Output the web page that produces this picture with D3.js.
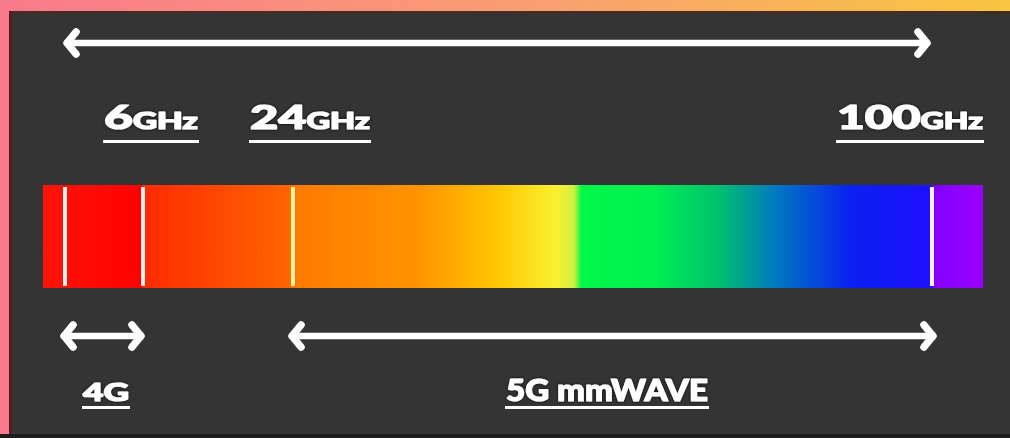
<!DOCTYPE html>
<html>
<head>
<meta charset="utf-8">
<script src="https://cdn.jsdelivr.net/npm/d3@7"></script>
<style>
  html, body { margin: 0; padding: 0; background: #343434; overflow: hidden; }
  svg { display: block; }
  .lbl { font-family: Lato, "DejaVu Sans", sans-serif; font-weight: 900; fill: #fff;
         stroke: #fff; stroke-width: 1.2px; stroke-linejoin: round; filter: url(#glow); }
</style>
</head>
<body>
<svg id="chart" width="1010" height="438"></svg>
<script>
/* 4G vs 5G mmWave spectrum strip. Frequencies are placed on a piecewise
   scale (the original graphic is not to scale), bands drawn as double arrows. */

// ----- data -----
const scaleFreqs = [0, 0.6, 6, 24, 100, 108];          // GHz, domain breakpoints
const markerFreqs = [0.6, 6, 24, 100];                 // white tick lines on the strip
const freqLabels = ["6", "24", "100"];                 // numbers above the strip
const freqLabelValues = [6, 24, 100];
const bandNames = ["4G", "5G mmWAVE"];
const bandStart = [0.6, 24];
const bandEnd = [6, 100];
const fullRange = [0.6, 100];                          // top arrow
// gradient along the strip: [fraction of strip width, colour]
const stripStops = [
  [0.00, "#ff1408"], [0.105, "#ff0000"], [0.106, "#ff2a00"], [0.26, "#ff6400"],
  [0.27, "#ff7a00"], [0.40, "#ff9400"], [0.48, "#ffc400"], [0.545, "#faf030"],
  [0.565, "#d0f040"], [0.573, "#00f84a"], [0.65, "#00f050"], [0.72, "#00c070"],
  [0.78, "#0078c0"], [0.86, "#0a20f0"], [0.945, "#2010ff"], [0.948, "#8200ff"],
  [1.00, "#9a00ff"]
];

// ----- layout -----
const W = 1010, H = 438;
const x = d3.scaleLinear().domain(scaleFreqs).range([43, 65, 143, 293, 932, 983]);
const stripTop = 185, stripBot = 288;
const svg = d3.select("#chart");
const defs = svg.append("defs");

const glow = defs.append("filter").attr("id", "glow").attr("x", "-10%").attr("y", "-30%")
  .attr("width", "120%").attr("height", "160%");
glow.append("feDropShadow").attr("dx", 0).attr("dy", 0).attr("stdDeviation", 1.5)
  .attr("flood-color", "#000").attr("flood-opacity", 0.9);

// frame: pink left edge, pink->yellow top band
const topGrad = defs.append("linearGradient").attr("id", "topband");
topGrad.append("stop").attr("offset", "0%").attr("stop-color", "#f97a8c");
topGrad.append("stop").attr("offset", "55%").attr("stop-color", "#f9a070");
topGrad.append("stop").attr("offset", "100%").attr("stop-color", "#f8c640");
svg.append("rect").attr("width", W).attr("height", H).attr("fill", "#343434");
svg.append("rect").attr("x", 0).attr("y", 0).attr("width", W).attr("height", 11).attr("fill", "url(#topband)");
svg.append("rect").attr("x", 0).attr("y", 11).attr("width", W).attr("height", 3).attr("fill", "#4a2c24").attr("opacity", 0.8);
svg.append("rect").attr("x", 0).attr("y", 0).attr("width", 9).attr("height", H).attr("fill", "#f97a8c");
svg.append("rect").attr("x", 9).attr("y", 11).attr("width", 3).attr("height", H).attr("fill", "#5a1a22");
svg.append("rect").attr("x", 0).attr("y", H - 4).attr("width", W).attr("height", 4).attr("fill", "#1e1e1e");

// ----- spectrum strip -----
const sg = defs.append("linearGradient").attr("id", "spectrum")
  .attr("gradientUnits", "userSpaceOnUse")
  .attr("x1", x(scaleFreqs[0])).attr("x2", x(scaleFreqs[scaleFreqs.length - 1]))
  .attr("y1", 0).attr("y2", 0);
sg.selectAll("stop").data(stripStops).join("stop")
  .attr("offset", (d) => d[0]).attr("stop-color", (d) => d[1]);
svg.append("rect")
  .attr("x", x(scaleFreqs[0])).attr("y", stripTop)
  .attr("width", x(scaleFreqs[scaleFreqs.length - 1]) - x(scaleFreqs[0]))
  .attr("height", stripBot - stripTop).attr("fill", "url(#spectrum)");

svg.append("g").selectAll("line").data(markerFreqs).join("line")
  .attr("x1", (d) => x(d)).attr("x2", (d) => x(d))
  .attr("y1", stripTop + 2).attr("y2", stripBot - 2)
  .attr("stroke", (d, i) => (i === 2 ? "#fff2a0" : "#fff0ee")).attr("stroke-width", 4);

// ----- arrows -----
function arrow(g, x0, x1, y) {
  const a = g.append("g").attr("fill", "none").attr("stroke", "#fff")
    .attr("stroke-linecap", "round").attr("stroke-linejoin", "round");
  a.append("line").attr("x1", x0 + 2).attr("x2", x1 - 2).attr("y1", y).attr("y2", y).attr("stroke-width", 6.5);
  const h = 11, s = 11;
  a.append("path").attr("stroke-width", 7.5)
    .attr("d", `M${x0 + h},${y - s}L${x0 + 2},${y}L${x0 + h},${y + s}`);
  a.append("path").attr("stroke-width", 7.5)
    .attr("d", `M${x1 - h},${y - s}L${x1 - 2},${y}L${x1 - h},${y + s}`);
}
arrow(svg, x(fullRange[0]), x(fullRange[1]) - 3, 43);
bandNames.forEach((n, i) => arrow(svg, x(bandStart[i]) - 3, x(bandEnd[i]) + (i === 1 ? 3 : 0), 336));

// ----- labels -----
function underline(t, y) {
  const b = t.node().getBBox();
  svg.append("rect").attr("x", b.x - 1).attr("y", y).attr("width", b.width + 2)
    .attr("height", 3).attr("fill", "#fff");
}
const freqLabelWidth = [94, 120, 146];
const freqLabelNudge = [8, 17, -22];
freqLabels.forEach((lab, i) => {
  const cx = x(freqLabelValues[i]) + freqLabelNudge[i];
  const t = svg.append("text").attr("class", "lbl")
    .attr("x", cx - freqLabelWidth[i] / 2).attr("y", 129)
    .attr("textLength", freqLabelWidth[i]).attr("lengthAdjust", "spacingAndGlyphs");
  t.append("tspan").attr("font-size", 33).text(lab);
  t.append("tspan").attr("font-size", 22).text("GHz");
  underline(t, 140);
});

const bandLabelX = [83, 506];
const bandLabelWidth = [46, 202];
const bandLabelSize = [24, 31];
bandNames.forEach((n, i) => {
  const t = svg.append("text").attr("class", "lbl")
    .attr("x", bandLabelX[i]).attr("y", 401)
    .attr("font-size", bandLabelSize[i])
    .attr("textLength", bandLabelWidth[i]).attr("lengthAdjust", "spacingAndGlyphs")
    .text(n);
  underline(t, 406);
});
</script>
</body>
</html>
